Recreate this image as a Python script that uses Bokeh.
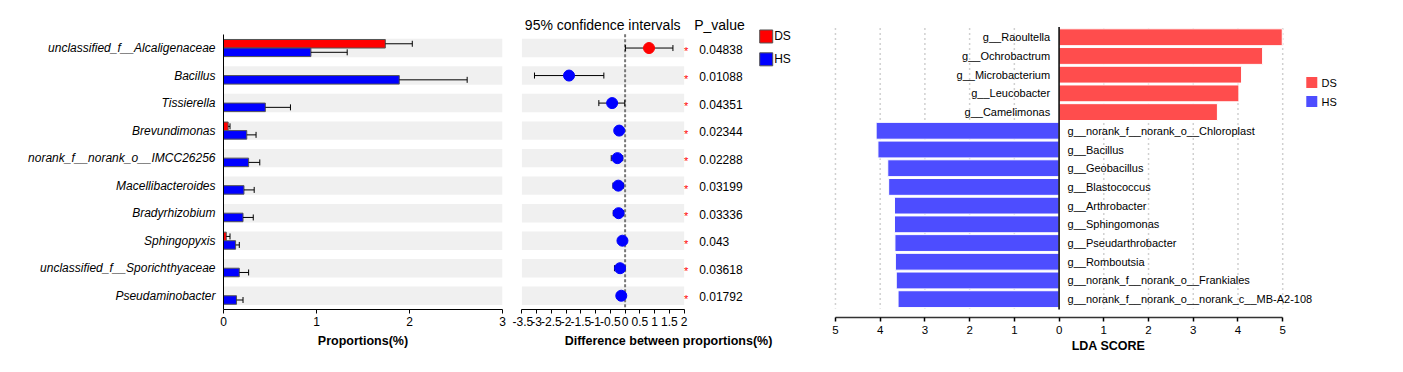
import math
from bokeh.plotting import figure
from bokeh.models import Range1d, FixedTicker, CustomJSTickFormatter
from bokeh.layouts import row
from bokeh.embed import file_html
from bokeh.resources import INLINE
from bokeh.core.properties import value

FONT = "Liberation Sans"

# ---------------- data ----------------
taxa = ["unclassified_f__Alcaligenaceae", "Bacillus", "Tissierella", "Brevundimonas",
        "norank_f__norank_o__IMCC26256", "Macellibacteroides", "Bradyrhizobium",
        "Sphingopyxis", "unclassified_f__Sporichthyaceae", "Pseudaminobacter"]
ds_prop = [1.74, 0.0, 0.0, 0.05, 0.0, 0.0, 0.0, 0.03, 0.0, 0.0]
ds_err = [0.29, 0.0, 0.0, 0.02, 0.0, 0.0, 0.0, 0.04, 0.0, 0.0]
hs_prop = [0.94, 1.89, 0.45, 0.25, 0.27, 0.22, 0.21, 0.13, 0.17, 0.14]
hs_err = [0.39, 0.73, 0.27, 0.10, 0.12, 0.11, 0.11, 0.04, 0.10, 0.07]
diff = [0.81, -1.90, -0.44, -0.20, -0.26, -0.23, -0.22, -0.09, -0.17, -0.13]
ci_low = [0.01, -3.07, -0.89, -0.30, -0.47, -0.41, -0.40, -0.17, -0.36, -0.26]
ci_high = [1.62, -0.72, -0.01, -0.10, -0.08, -0.05, -0.05, -0.02, -0.01, -0.02]
p_values = ["0.04838", "0.01088", "0.04351", "0.02344", "0.02288",
            "0.03199", "0.03336", "0.043", "0.03618", "0.01792"]
groups = ["DS", "HS"]
prop_ticks = [0, 1, 2, 3]
diff_ticks = [-3.5, -3.0, -2.5, -2.0, -1.5, -1.0, -0.5, 0.0, 0.5, 1.0, 1.5, 2.0]

lda_labels = ["g__Raoultella", "g__Ochrobactrum", "g__Microbacterium", "g__Leucobacter",
              "g__Camelimonas", "g__norank_f__norank_o__Chloroplast", "g__Bacillus",
              "g__Geobacillus", "g__Blastococcus", "g__Arthrobacter", "g__Sphingomonas",
              "g__Pseudarthrobacter", "g__Romboutsia", "g__norank_f__norank_o__Frankiales",
              "g__norank_f__norank_o__norank_c__MB-A2-108"]
lda_groups = ["DS"] * 5 + ["HS"] * 10
lda_scores = [4.99, 4.55, 4.08, 4.02, 3.54, 4.09, 4.05, 3.83, 3.81, 3.68, 3.68, 3.67, 3.66, 3.64, 3.60]
lda_ticks = [-5, -4, -3, -2, -1, 0, 1, 2, 3, 4, 5]

# ---------------- styles ----------------
RED, BLUE = "#FF0000", "#0000FF"
LRED, LBLUE = "#FF4D4D", "#4D4DFF"
BAND = "#F0F0F0"
MARGIN = 8
n = len(taxa)
rows = list(range(n))


def base_fig(**kw):
    p = figure(output_backend="svg", toolbar_location=None, tools="", **kw)
    p.xgrid.visible = False
    p.ygrid.visible = False
    p.outline_line_color = None
    p.background_fill_color = "white"
    p.border_fill_color = "white"
    return p


def style_xaxis(ax, label):
    ax.axis_label = label
    ax.axis_label_text_font = FONT
    ax.axis_label_text_font_style = "bold"
    ax.axis_label_text_font_size = "12.5px"
    ax.axis_label_text_color = "black"
    ax.axis_label_standoff = 5
    ax.major_label_text_font = FONT
    ax.major_label_text_font_size = "12px"
    ax.major_label_text_color = "black"
    ax.major_label_standoff = 3
    ax.major_tick_out = 4
    ax.major_tick_in = 0
    ax.minor_tick_line_color = None
    ax.axis_line_color = "black"
    ax.major_tick_line_color = "black"


def error_bars(p, ys, lo, hi, lower_cap):
    p.segment(x0=lo, y0=ys, x1=hi, y1=ys, line_color="black", line_width=1)
    p.scatter(x=hi, y=ys, marker="dash", angle=math.pi / 2, size=6,
              line_color="black", line_width=1)
    if lower_cap:
        p.scatter(x=lo, y=ys, marker="dash", angle=math.pi / 2, size=6,
                  line_color="black", line_width=1)


# ---------------- panel 1: proportions ----------------
p1 = base_fig(frame_width=279, frame_height=299, min_border_left=215 + MARGIN, min_border_right=10,
              min_border_top=2 + MARGIN, min_border_bottom=55,
              x_range=Range1d(0, 3), y_range=Range1d(9.5, -1.364))
p1.hbar(y=rows, left=0, right=prop_ticks[-1], height=0.67, fill_color=BAND, line_color=None)
p1.hbar(y=[r - 0.155 for r in rows], left=0, right=ds_prop, height=0.31,
        fill_color=RED, line_color="#555555", line_width=1)
p1.hbar(y=[r + 0.155 for r in rows], left=0, right=hs_prop, height=0.31,
        fill_color=BLUE, line_color="#555555", line_width=1)

for props, errs, off in ((ds_prop, ds_err, -0.155), (hs_prop, hs_err, 0.155)):
    idx = [i for i in rows if errs[i] > 0]
    error_bars(p1, [i + off for i in idx], [props[i] for i in idx],
               [props[i] + errs[i] for i in idx], lower_cap=False)

style_xaxis(p1.xaxis[0], "Proportions(%)")
p1.xaxis.ticker = FixedTicker(ticks=prop_ticks)
ya = p1.yaxis[0]
ya.ticker = FixedTicker(ticks=rows)
ya.major_label_overrides = {i: t for i, t in enumerate(taxa)}
ya.bounds = (-0.5, 9.5)
ya.major_tick_out = 0
ya.major_tick_in = 0
ya.minor_tick_line_color = None
ya.major_label_standoff = 8
ya.major_label_text_font = FONT
ya.major_label_text_font_style = "italic"
ya.major_label_text_font_size = "12px"
ya.major_label_text_color = "black"
ya.axis_line_color = "black"

# ---------------- panel 2: CI ----------------
p2 = base_fig(frame_width=294, frame_height=299, min_border_left=9, min_border_right=5,
              min_border_top=2 + MARGIN, min_border_bottom=55, y_axis_location=None,
              x_range=Range1d(-3.51, 6.45), y_range=Range1d(9.5, -1.364))
p2.hbar(y=rows, left=diff_ticks[0], right=diff_ticks[-1], height=0.67, fill_color=BAND, line_color=None)
p2.segment(x0=[0], y0=[-0.5], x1=[0], y1=[9.5], line_color="#777777", line_width=2, line_dash="3 2")
error_bars(p2, rows, ci_low, ci_high, lower_cap=True)
pt_colors = [RED if d > 0 else BLUE for d in diff]
p2.scatter(x=diff, y=rows, size=11, fill_color=pt_colors, line_color=pt_colors)
p2.text(x=[2.07] * n, y=rows, text=["*"] * n, text_color="red", text_font=value(FONT),
        text_font_size="11px", text_align="center", text_baseline="middle", y_offset=3)
p2.text(x=[2.51] * n, y=rows, text=p_values, text_color="black", text_font=value(FONT),
        text_font_size="12px", text_align="left", text_baseline="middle", y_offset=1)
p2.text(x=[-0.76], y=[-0.83], text=["95% confidence intervals"], text_font=value(FONT),
        text_font_size="14px", text_align="center", text_baseline="middle", text_color="black")
p2.text(x=[2.34], y=[-0.83], text=["P_value"], text_font=value(FONT),
        text_font_size="14px", text_align="left", text_baseline="middle", text_color="black")
# legend
p2.scatter(x=[4.78, 4.78], y=[-0.42, 0.41], marker="square", size=13,
           fill_color=[RED, BLUE], line_color="#555555")
p2.text(x=[5.05, 5.05], y=[-0.42, 0.41], text=groups, text_font=value(FONT),
        text_font_size="12px", text_align="left", text_baseline="middle", text_color="black")
style_xaxis(p2.xaxis[0], "Difference between proportions(%)")
p2.xaxis.ticker = FixedTicker(ticks=diff_ticks)
p2.xaxis.formatter = CustomJSTickFormatter(code="return tick.toString()")
p2.xaxis.bounds = (diff_ticks[0], diff_ticks[-1])

# ---------------- panel 3: LDA ----------------
m = len(lda_labels)
lrows = list(range(m))
signed = [s if g == "DS" else -s for s, g in zip(lda_scores, lda_groups)]
bar_colors = [LRED if g == "DS" else LBLUE for g in lda_groups]
p3 = base_fig(frame_width=564, frame_height=307, min_border_left=6, min_border_right=5,
              min_border_top=2 + MARGIN, min_border_bottom=47, y_axis_location=None,
              x_range=Range1d(-5.2, 7.41), y_range=Range1d(14.98, -1.43))
grid_x = [t for t in lda_ticks if t != 0]
p3.segment(x0=grid_x, y0=[-0.5] * len(grid_x), x1=grid_x, y1=[14.5] * len(grid_x),
           line_color="#D0D0D0", line_width=1.5, line_dash="2 3")
p3.hbar(y=lrows, left=0, right=signed, height=0.9, fill_color=bar_colors,
        line_color="white", line_width=1)
p3.segment(x0=[0], y0=[-0.55], x1=[0], y1=[14.55], line_color="black", line_width=1.5)
ds_i = [i for i in lrows if lda_groups[i] == "DS"]
hs_i = [i for i in lrows if lda_groups[i] == "HS"]
p3.text(x=[-0.2] * len(ds_i), y=ds_i, text=[lda_labels[i] for i in ds_i], text_font=value(FONT),
        text_font_size="11px", text_align="right", text_baseline="middle", text_color="black")
p3.text(x=[0.19] * len(hs_i), y=hs_i, text=[lda_labels[i] for i in hs_i], text_font=value(FONT),
        text_font_size="11px", text_align="left", text_baseline="middle", text_color="black")
p3.scatter(x=[5.65, 5.65], y=[2.42, 3.44], marker="square", size=11,
           fill_color=[LRED, LBLUE], line_color=None)
p3.text(x=[5.87, 5.87], y=[2.42, 3.44], text=groups, text_font=value(FONT),
        text_font_size="11px", text_align="left", text_baseline="middle", text_color="black")
style_xaxis(p3.xaxis[0], "LDA SCORE")
p3.xaxis.ticker = FixedTicker(ticks=lda_ticks)
p3.xaxis.formatter = CustomJSTickFormatter(code="return Math.abs(tick).toString()")
p3.xaxis.bounds = (lda_ticks[0], lda_ticks[-1])
p3.xaxis.major_label_text_font_size = "11.5px"
p3.xaxis.axis_line_color = "#333333"
p3.xaxis.axis_line_width = 1.5
p3.xaxis.major_tick_line_width = 1.5
p3.xaxis.major_label_standoff = 4
p3.xaxis.axis_label_standoff = 2

layout = row(p1, p2, p3)
open("out.html", "w").write(file_html(layout, INLINE))
